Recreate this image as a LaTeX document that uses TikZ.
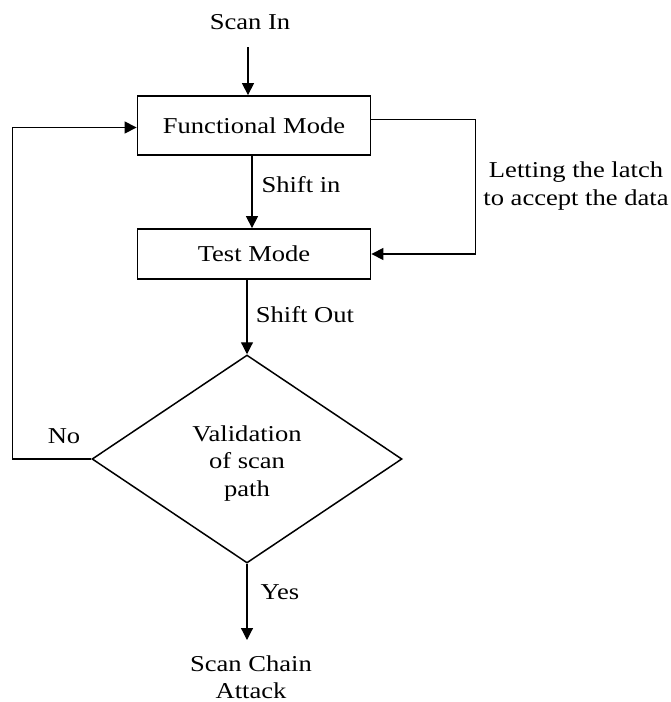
\documentclass[tikz,border=0pt]{standalone}
\usepackage{fontspec}
\setmainfont{Liberation Serif}[FakeStretch=1.17]
\usetikzlibrary{shapes.geometric,arrows.meta}
\begin{document}
\begin{tikzpicture}[x=1pt,y=-1pt,
  every node/.style={font=\fontsize{22.7}{27.5}\selectfont, inner sep=0pt},
  box/.style={draw, line width=1.8pt, minimum width=233pt},
  conn/.style={line width=1.2pt},
  arr/.style={conn, -{Triangle[length=12pt,width=12pt]}},
  lbl/.style={align=center}]
\useasboundingbox (0,0) rectangle (670,702);
\node[lbl] (scanin) at (250,22) {Scan In};
\coordinate (scaninend) at (248,47);
\node[box, minimum height=59pt] (fm) at (254,125.5) {Functional Mode};
\node[box, minimum height=50pt] (tm) at (254,254) {Test Mode};
\node[draw, line width=1.5pt, diamond, aspect=1.49, minimum width=310pt, minimum height=208pt, align=center] (dia) at (247,459) {\rule{0pt}{24pt}Validation\\of scan\\path};
\coordinate (yesend) at (247,640);
\node[lbl] (attack) at (251,677) {Scan Chain\\Attack};
\node[lbl] (shiftin) at (301,185) {Shift in};
\node[lbl] (shiftout) at (305,315) {Shift Out};
\node[lbl] (latch) at (576,186) {Letting the latch\\to accept the data};
\node[lbl] (no) at (64,436) {No};
\node[lbl] (yes) at (280,592) {Yes};
\draw[arr] (scaninend) -- (scaninend |- fm.north);
\draw[arr] ([xshift=-2pt]fm.south) -- ([xshift=-2pt]tm.north);
\draw[arr] (tm.south -| dia.north) -- (dia.north);
\draw[arr] (dia.south) -- (yesend);
\draw[arr] ([yshift=6pt]fm.east) -- ++(104,0) |- (tm.east);
\draw[arr] (dia.west) -- ++(-79,0) |- ([yshift=-2pt]fm.west);
\end{tikzpicture}
\end{document}
